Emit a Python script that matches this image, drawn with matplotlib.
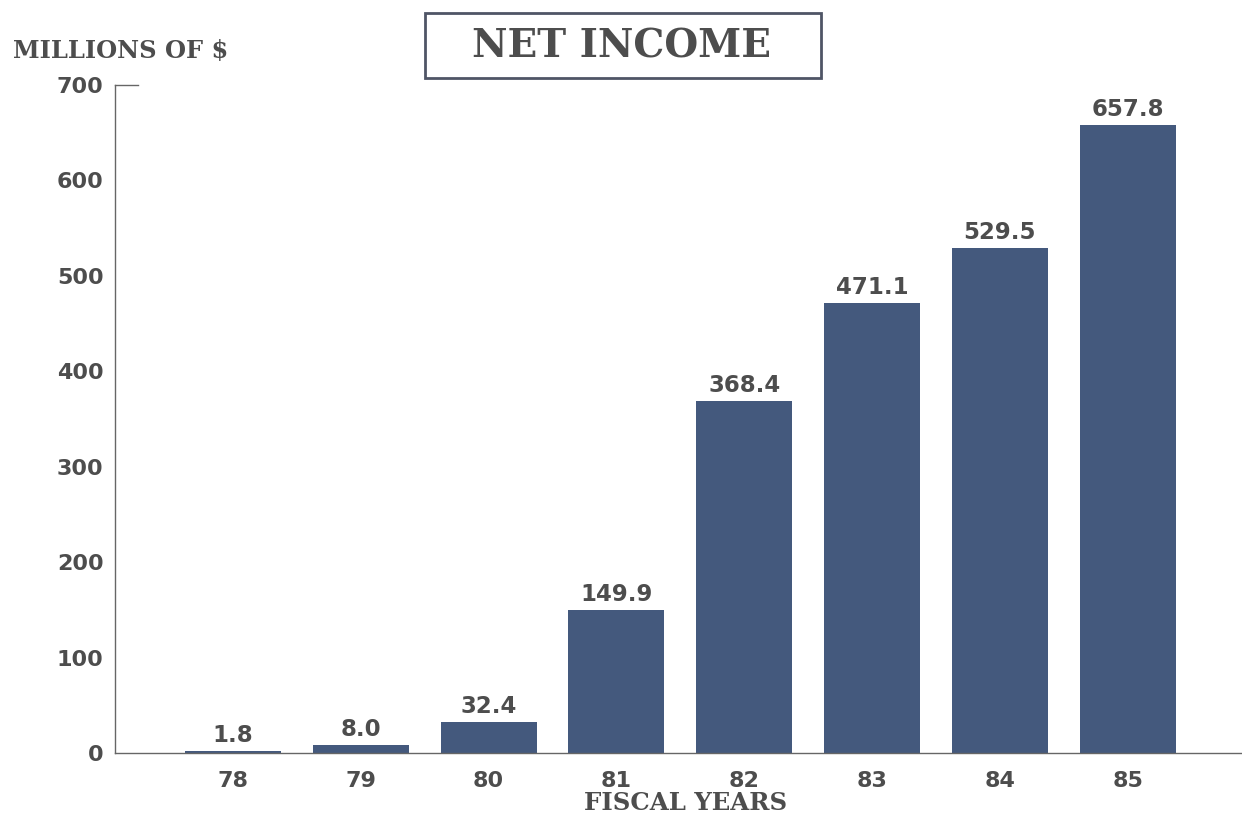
import numpy as np
import matplotlib.pyplot as plt
from matplotlib.patches import Rectangle

years = ["78", "79", "80", "81", "82", "83", "84", "85"]
net_income = [1.8, 8.0, 32.4, 149.9, 368.4, 471.1, 529.5, 657.8]
y_ticks = [0, 100, 200, 300, 400, 500, 600, 700]

bar_color = "#44597d"
text_color = "#4d4d4d"
serif = "DejaVu Serif"
sans = "DejaVu Sans"

fig = plt.figure(figsize=(12.42, 8.23), dpi=100)
ax = fig.add_axes([0.0922, 0.0851, 0.9078, 0.8116])

x = np.arange(len(years))
ax.bar(x, net_income, width=0.75, color=bar_color, zorder=2)

for xi, v in zip(x, net_income):
    ax.annotate(f"{v:.1f}", (xi, v), xytext=(0, 3), textcoords="offset points",
                ha="center", va="bottom", fontsize=16.5, fontweight="bold",
                family=sans, color=text_color)

ax.set_xlim(-0.927, 7.895)
ax.set_ylim(0, 700)
ax.set_xticks(x)
ax.set_xticklabels(years)
ax.set_yticks(y_ticks)
ax.tick_params(axis="both", length=0, labelsize=16, labelcolor=text_color)
ax.tick_params(axis="x", pad=13)
ax.tick_params(axis="y", pad=8)
for lbl in ax.get_xticklabels() + ax.get_yticklabels():
    lbl.set_fontweight("bold")
    lbl.set_family(sans)

for side in ["top", "right"]:
    ax.spines[side].set_visible(False)
for side in ["left", "bottom"]:
    ax.spines[side].set_color("#666666")
    ax.spines[side].set_linewidth(1.0)
# short cap at the top of the value axis
ax.axhline(700, xmin=0, xmax=0.021, color="#666666", lw=1.0, clip_on=False)

fig.text(0.0105, 0.938, "MILLIONS OF $", fontsize=17.4, fontweight="bold",
         family=serif, color=text_color, va="center", ha="left")

# boxed title
fig.patches.append(Rectangle((0.3422, 0.9052), 0.3188, 0.079, transform=fig.transFigure,
                             fill=False, ec="#4f5566", lw=2))
fig.text(0.5, 0.9435, "NET INCOME", fontsize=28, fontweight="bold",
         family=serif, color=text_color, va="center", ha="center")

fig.text(0.5523, 0.0243, "FISCAL YEARS", fontsize=17.6, fontweight="bold",
         family=serif, color=text_color, va="center", ha="center")

fig.savefig("out.png", dpi=100)
